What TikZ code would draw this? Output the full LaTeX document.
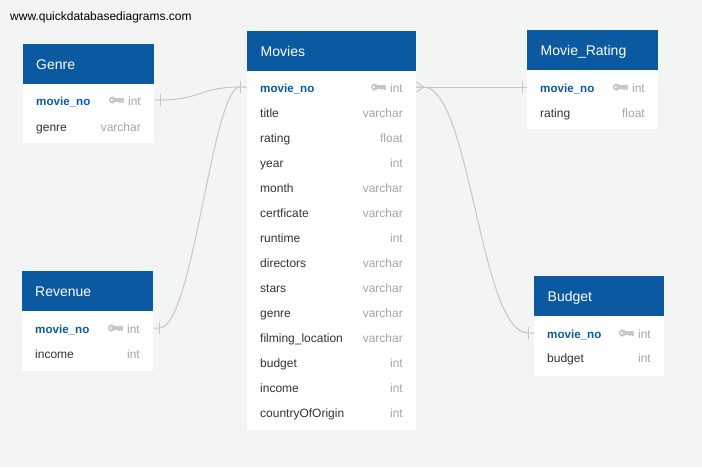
\documentclass[tikz,border=0pt]{standalone}
\usepackage{fontspec}
\setmainfont{Liberation Sans}
\usetikzlibrary{positioning}
\definecolor{qdbblue}{RGB}{11,90,161}
\definecolor{qdbbg}{RGB}{243,244,244}
\definecolor{qdbtext}{RGB}{51,51,51}
\definecolor{qdbtype}{RGB}{165,165,165}
\definecolor{qdbkey}{RGB}{200,200,200}
\definecolor{qdbline}{RGB}{198,198,198}
\begin{document}
\begin{tikzpicture}
    [x=1pt, y=-1pt,
    tbody/.style={fill=white, anchor=north west, inner sep=0pt},
    thead/.style={fill=qdbblue, anchor=north west, inner sep=0pt, minimum height=40pt},
    ttitle/.style={text=white, anchor=west, inner sep=0pt, text height=10pt, text depth=0pt,
      font=\fontsize{14}{16}\selectfont},
    fname/.style={text=qdbtext, anchor=west, inner sep=0pt, text height=10.4pt, text depth=0pt,
      font=\fontsize{12}{14}\selectfont},
    fkey/.style={fname, text=qdbblue, font=\fontsize{11.6}{14}\selectfont\bfseries},
    ftype/.style={fname, text=qdbtype, anchor=east},
    rel/.style={draw=qdbline, line width=1pt},
    pkey/.pic={
      \fill[qdbkey] (3.6,0) circle (3.6);
      \fill[white] (2.9,0) circle (1.1);
      \fill[qdbkey] (5.5,-1.6) rectangle (15,1.6);
      \fill[qdbkey] (10,1.6) rectangle (11.6,3.4);
      \fill[qdbkey] (13.2,1.6) rectangle (15,3.4);
    }]
    % page
    \fill[qdbbg] (0,0) rectangle (702,467);
    \useasboundingbox (0,0) rectangle (702,467);
    \node[anchor=base west, inner sep=0pt, font=\fontsize{12}{14}\selectfont] (wm) at (10,20)
      {www.quickdatabasediagrams.com};

    % Genre
    \node[tbody, minimum width=131pt, minimum height=99pt] (genre) at (23,44) {};
    \node[thead, minimum width=131pt] (genrehead) at (23,44) {};
    \node[ttitle, right=13pt of genrehead.west] (genretitle) {Genre};
    \node[fkey] (genrepk) at (36,100) {movie\_no};
    \node[ftype] (genretype1) at (141,100) {int};
    \pic at ([xshift=-19pt]genretype1.west) {pkey};
    \node[fname] (genrefield2) at (36,126) {genre};
    \node[ftype] (genretype2) at (141,126) {varchar};

    % Revenue
    \node[tbody, minimum width=131pt, minimum height=100pt] (revenue) at (22,271) {};
    \node[thead, minimum width=131pt] (revenuehead) at (22,271) {};
    \node[ttitle, right=13pt of revenuehead.west] (revenuetitle) {Revenue};
    \node[fkey] (revenuepk) at (35,328) {movie\_no};
    \node[ftype] (revenuetype1) at (140,328) {int};
    \pic at ([xshift=-19pt]revenuetype1.west) {pkey};
    \node[fname] (revenuefield2) at (35,353) {income};
    \node[ftype] (revenuetype2) at (140,353) {int};

    % Movies
    \node[tbody, minimum width=169pt, minimum height=399pt] (movies) at (247,31) {};
    \node[thead, minimum width=169pt] (movieshead) at (247,31) {};
    \node[ttitle, right=13.5pt of movieshead.west] (moviestitle) {Movies};
    \node[fkey] (moviespk) at (260,87) {movie\_no};
    \node[ftype] (moviestype1) at (403,87) {int};
    \pic at ([xshift=-19pt]moviestype1.west) {pkey};
    \foreach \f/\t [count=\i from 2] in {title/varchar, rating/float, year/int, month/varchar,
      certficate/varchar, runtime/int, directors/varchar, stars/varchar, genre/varchar,
      filming\_location/varchar, budget/int, income/int, countryOfOrigin/int}{
      \node[fname] (moviesfield\i) at (260,62+25*\i) {\f};
      \node[ftype] (moviestype\i) at (403,62+25*\i) {\t};
    }

    % Movie_Rating
    \node[tbody, minimum width=131pt, minimum height=99pt] (movierating) at (527,30) {};
    \node[thead, minimum width=131pt] (movieratinghead) at (527,30) {};
    \node[ttitle, right=13.5pt of movieratinghead.west] (movieratingtitle) {Movie\_Rating};
    \node[fkey] (movieratingpk) at (540,87) {movie\_no};
    \node[ftype] (movieratingtype1) at (645,87) {int};
    \pic at ([xshift=-19pt]movieratingtype1.west) {pkey};
    \node[fname] (movieratingfield2) at (540,112) {rating};
    \node[ftype] (movieratingtype2) at (645,112) {float};

    % Budget
    \node[tbody, minimum width=130pt, minimum height=100pt] (budget) at (534,276) {};
    \node[thead, minimum width=130pt] (budgethead) at (534,276) {};
    \node[ttitle, right=13.5pt of budgethead.west] (budgettitle) {Budget};
    \node[fkey] (budgetpk) at (547,333) {movie\_no};
    \node[ftype] (budgettype1) at (651,333) {int};
    \pic at ([xshift=-19pt]budgettype1.west) {pkey};
    \node[fname] (budgetfield2) at (547,357) {budget};
    \node[ftype] (budgettype2) at (651,357) {int};

    % relations
    \coordinate (moviesin) at (movies.west |- moviespk.west);
    \coordinate (moviesout) at (movies.east |- moviespk.west);
    \draw[rel] (genre.east |- genrepk.west) -- ++(6,0)
      .. controls +(40,0) and +(-40,0) .. ([xshift=-7pt]moviesin) -- (moviesin);
    \draw[rel] (revenue.east |- revenuepk.west) -- ++(6,0)
      .. controls +(34,0) and +(-28,0) .. ([xshift=-7pt]moviesin);
    \draw[rel] (moviesout) -- (movierating.west |- movieratingpk.west);
    \draw[rel] (moviesout) -- ++(7,0)
      .. controls +(47,0) and +(-48,0) .. ([xshift=-6pt]budget.west |- budgetpk.west)
      -- (budget.west |- budgetpk.west);
    % ends
    \draw[rel] ([xshift=6pt]genre.east |- genrepk.west) ++(0,-6) -- ++(0,12);
    \draw[rel] ([xshift=6pt]revenue.east |- revenuepk.west) ++(0,-6) -- ++(0,12);
    \draw[rel] ([xshift=-7pt]moviesin) ++(0,-6) -- ++(0,12);
    \draw[rel] (moviesout) ++(0,-5) -- ++(7,5) -- ++(-7,5);
    \draw[rel] ([xshift=-5pt]movierating.west |- movieratingpk.west) ++(0,-6) -- ++(0,12);
    \draw[rel] ([xshift=-6pt]budget.west |- budgetpk.west) ++(0,-6) -- ++(0,12);
\end{tikzpicture}
\end{document}
